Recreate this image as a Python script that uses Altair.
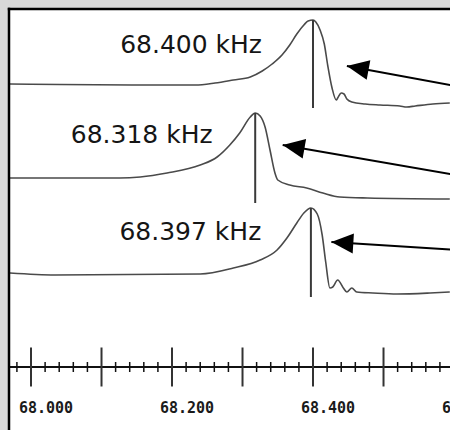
import math
import altair as alt
import pandas as pd

# ---- trace 1 (resonance at 68.400 kHz) ----
c1_f = [67.970, 68.041, 68.169, 68.233, 68.261, 68.287, 68.311, 68.328, 68.342, 68.356,
        68.367, 68.377, 68.387, 68.393, 68.400, 68.404, 68.410, 68.416, 68.421, 68.427,
        68.433, 68.435, 68.440, 68.444, 68.448, 68.455, 68.474, 68.495, 68.523, 68.533,
        68.545, 68.570, 68.594]
c1_a = [34.6, 34.55, 34.5, 34.5, 34.7, 35.0, 35.3, 35.9, 36.6, 37.5,
        38.5, 39.6, 40.5, 40.9, 41.0, 40.8, 40.0, 38.6, 36.4, 34.2,
        33.0, 33.2, 33.7, 33.6, 33.1, 32.8, 32.6, 32.5, 32.4, 32.3,
        32.4, 32.6, 32.7]

# ---- trace 2 (resonance at 68.318 kHz) ----
c2_f = [67.970, 68.126, 68.155, 68.193, 68.240, 68.264, 68.282, 68.296, 68.311, 68.318,
        68.325, 68.332, 68.339, 68.346, 68.350, 68.367, 68.391, 68.414, 68.438, 68.477,
        68.594]
c2_a = [25.2, 25.2, 25.3, 25.7, 26.5, 27.3, 28.5, 29.7, 31.3, 31.7,
        31.4, 30.3, 28.0, 25.7, 25.0, 24.5, 24.2, 23.7, 23.3, 23.2,
        23.1]

# ---- trace 3 (resonance at 68.397 kHz) ----
c3_f = [67.970, 68.034, 68.240, 68.287, 68.325, 68.349, 68.363, 68.377, 68.387, 68.397,
        68.406, 68.413, 68.418, 68.424, 68.428, 68.435, 68.443, 68.448, 68.455, 68.462,
        68.485, 68.519, 68.566, 68.594]
c3_a = [15.7, 15.5, 15.6, 16.2, 17.0, 18.0, 19.2, 20.7, 21.7, 22.2,
        21.6, 19.5, 16.8, 14.2, 14.3, 15.0, 14.2, 13.8, 14.2, 13.8,
        13.7, 13.6, 13.7, 13.8]

# ---- peak markers and labels ----
peak_f = [68.400, 68.318, 68.397]
peak_top = [41.0, 31.7, 22.2]
peak_bottom = [32.2, 22.7, 13.3]
label_text = ["68.400 kHz", "68.318 kHz", "68.397 kHz"]
label_f = [68.227, 68.157, 68.226]
label_a = [38.5, 29.5, 19.8]

# ---- arrows ----
arrow_tip_f = [68.448, 68.357, 68.426]
arrow_tip_a = [36.4, 28.5, 18.8]
arrow_end_f = [68.637, 68.637, 68.637]
arrow_end_a = [33.95, 25.07, 17.85]

# ---- frequency axis ----
major_ticks = [68.0, 68.1, 68.2, 68.3, 68.4, 68.5]
minor_ticks = [67.98, 68.02, 68.04, 68.06, 68.08, 68.12, 68.14, 68.16, 68.18,
               68.22, 68.24, 68.26, 68.28, 68.32, 68.34, 68.36, 68.38,
               68.42, 68.44, 68.46, 68.48, 68.52, 68.54, 68.56, 68.58]
tick_label_f = [68.0, 68.2, 68.4, 68.6]
tick_labels = ["68.000", "68.200", "68.400", "68.600"]

AXIS_Y = 6.3
MAJOR_HALF = 1.95
MINOR_HALF = 0.5
LABEL_Y = 2.2

W, H = 440, 420
X_DOMAIN = [67.9702, 68.5943]
Y_DOMAIN = [0, 42]
xs = alt.Scale(domain=X_DOMAIN, nice=False, zero=False)
ys = alt.Scale(domain=Y_DOMAIN, nice=False, zero=False)
px_per_x = W / (X_DOMAIN[1] - X_DOMAIN[0])
px_per_y = H / (Y_DOMAIN[1] - Y_DOMAIN[0])

curves = pd.concat([
    pd.DataFrame({"f": c1_f, "a": c1_a, "trace": "1"}),
    pd.DataFrame({"f": c2_f, "a": c2_a, "trace": "2"}),
    pd.DataFrame({"f": c3_f, "a": c3_a, "trace": "3"}),
])
peaks = pd.DataFrame({"f": peak_f, "top": peak_top, "bottom": peak_bottom})
labels = pd.DataFrame({"f": label_f, "a": label_a, "t": label_text})
arrows = pd.DataFrame({"f": arrow_tip_f, "a": arrow_tip_a,
                       "f2": arrow_end_f, "a2": arrow_end_a})
arrows["ang"] = [
    math.degrees(math.atan2((a - a2) * px_per_y, (f2 - f) * px_per_x))
    for f, a, f2, a2 in zip(arrow_tip_f, arrow_tip_a, arrow_end_f, arrow_end_a)
]
majors = pd.DataFrame({"f": major_ticks, "y0": AXIS_Y - MAJOR_HALF, "y1": AXIS_Y + MAJOR_HALF})
minors = pd.DataFrame({"f": minor_ticks, "y0": AXIS_Y - MINOR_HALF, "y1": AXIS_Y + MINOR_HALF})
axis_line = pd.DataFrame({"f": [X_DOMAIN[0]], "f2": [X_DOMAIN[1]], "a": [AXIS_Y]})
tick_text = pd.DataFrame({"f": tick_label_f, "t": tick_labels, "a": LABEL_Y})

X = lambda field: alt.X(field, type="quantitative", scale=xs, axis=None)
Y = lambda field: alt.Y(field, type="quantitative", scale=ys, axis=None)

lines = alt.Chart(curves).mark_line(
    color="#4a4a4a", strokeWidth=1.6, clip=True, interpolate="monotone"
).encode(x=X("f"), y=Y("a"), detail="trace:N", order="f:Q")

peak_rules = alt.Chart(peaks).mark_rule(color="#3a3a3a", strokeWidth=2, clip=True).encode(
    x=X("f"), y=Y("top"), y2="bottom")

peak_text = alt.Chart(labels).mark_text(
    font="DejaVu Sans", fontSize=25, color="#151515", align="center", baseline="middle"
).encode(x=X("f"), y=Y("a"), text="t:N")

arrow_lines = alt.Chart(arrows).mark_rule(color="black", strokeWidth=2, clip=True).encode(
    x=X("f"), y=Y("a"), x2="f2", y2="a2")

arrow_heads = alt.Chart(arrows).mark_point(
    shape="M0,0L2.2,-1L2.2,1Z", filled=True, size=400, color="black", opacity=1, clip=True
).encode(x=X("f"), y=Y("a"), angle=alt.Angle("ang:Q", scale=None))

axis_rule = alt.Chart(axis_line).mark_rule(color="#111", strokeWidth=2, clip=True).encode(
    x=X("f"), x2="f2", y=Y("a"))

major_rules = alt.Chart(majors).mark_rule(color="#333", strokeWidth=2, clip=True).encode(
    x=X("f"), y=Y("y0"), y2="y1")

minor_rules = alt.Chart(minors).mark_rule(color="#111", strokeWidth=1.5, clip=True).encode(
    x=X("f"), y=Y("y0"), y2="y1")

axis_labels = alt.Chart(tick_text).mark_text(
    font="DejaVu Sans Mono", fontWeight="bold", fontSize=15, color="#1a1a1a",
    align="center", baseline="middle", dx=15, clip=True
).encode(x=X("f"), y=Y("a"), text="t:N")

frame_df = pd.DataFrame({"k": [0]})
frame_left = alt.Chart(frame_df).mark_rule(color="black", strokeWidth=2.5).encode(
    x=alt.value(-1), y=alt.value(-2.2), y2=alt.value(H))
frame_top = alt.Chart(frame_df).mark_rule(color="black", strokeWidth=2.5).encode(
    y=alt.value(-1), x=alt.value(-2.2), x2=alt.value(W))

chart = alt.layer(
    lines, peak_rules, peak_text, arrow_lines, arrow_heads,
    axis_rule, major_rules, minor_rules, axis_labels, frame_left, frame_top
).properties(
    width=W, height=H, autosize="none",
    padding={"left": 10, "top": 10, "right": 0, "bottom": 0},
    background="#d9d9d9",
).configure_view(fill="white", stroke="white", strokeWidth=0)

chart.save("out.html", embed_options={"renderer": "svg", "actions": False})
